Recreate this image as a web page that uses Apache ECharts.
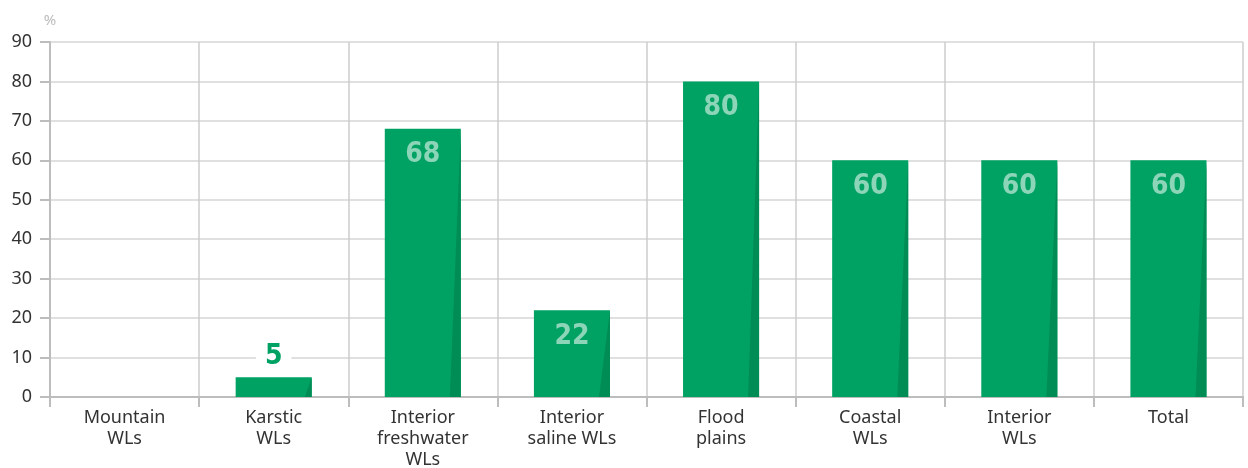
<!DOCTYPE html>
<html>
<head>
<meta charset="utf-8">
<script src="https://cdn.jsdelivr.net/npm/echarts@6/dist/echarts.min.js"></script>
<style>html,body{margin:0;padding:0;background:#fff}#c{width:1248px;height:468px}</style>
</head>
<body>
<div id="c"></div>
<script>
const categories = ['Mountain\nWLs', 'Karstic\nWLs', 'Interior\nfreshwater\nWLs', 'Interior\nsaline WLs', 'Flood\nplains', 'Coastal\nWLs', 'Interior\nWLs', 'Total'];
const values = [0, 5, 68, 22, 80, 60, 60, 60];
const yTicks = { min: 0, max: 90, interval: 10 };

const GREEN = '#00a263';
const DARK = '#008c55';
const BAR_FRAC = 0.51;

const chart = echarts.init(document.getElementById('c'));
const barData = values.map((v, i) => {
  if (v === 0) return { value: v, label: { show: false } };
  if (v < 10) {
    return {
      value: v,
      label: {
        position: 'top', distance: 7, color: GREEN,
        backgroundColor: '#fff', padding: [0, 9, 0, 9]
      }
    };
  }
  return v;
});

chart.setOption({
  animation: false,
  grid: { left: 50, right: 5, top: 42, bottom: 71, containLabel: false, outerBoundsMode: 'none' },
  xAxis: {
    type: 'category',
    data: categories,
    axisLine: { lineStyle: { color: '#bdbdbd', width: 2 } },
    axisTick: { show: true, length: 10, alignWithLabel: false, lineStyle: { color: '#bdbdbd', width: 2 } },
    splitLine: { show: true, lineStyle: { color: '#cccccc', width: 1.5 } },
    axisLabel: {
      interval: 0, margin: 10, color: '#333', fontSize: 18, lineHeight: 21,
      fontFamily: 'Noto Sans'
    }
  },
  yAxis: {
    type: 'value', min: yTicks.min, max: yTicks.max, interval: yTicks.interval,
    name: '%', nameLocation: 'end', nameGap: 14,
    nameTextStyle: { color: '#bbbbbb', fontSize: 15, align: 'center', fontFamily: 'Noto Sans' },
    axisLine: { show: true, lineStyle: { color: '#bdbdbd', width: 2 } },
    axisTick: { show: true, inside: false, length: 10, lineStyle: { color: '#bdbdbd', width: 2 } },
    splitLine: { show: true, lineStyle: { color: '#d6d6d6', width: 1.5 } },
    axisLabel: { margin: 18, color: '#333', fontSize: 18, fontFamily: 'Noto Sans' }
  },
  series: [
    {
      type: 'bar',
      data: barData,
      barWidth: (BAR_FRAC * 100) + '%',
      itemStyle: { color: GREEN },
      label: {
        show: true, position: 'insideTop', distance: 12,
        color: 'rgba(255,255,255,0.55)', fontSize: 28, fontWeight: 'bold',
        fontFamily: 'DejaVu Sans Condensed'
      },
      z: 2
    },
    {
      type: 'custom',
      data: values.map((v, i) => [i, v]),
      z: 3,
      silent: true,
      renderItem: function (params, api) {
        const v = api.value(1);
        if (!v) return null;
        const top = api.coord([api.value(0), v]);
        const base = api.coord([api.value(0), 0]);
        const bw = api.size([1, 0])[0] * BAR_FRAC;
        const right = top[0] + bw / 2;
        const h = base[1] - top[1];
        const w = Math.min(11, h * 0.35);
        return {
          type: 'polygon',
          shape: { points: [[right, top[1]], [right, base[1]], [right - w, base[1]]] },
          style: { fill: DARK }
        };
      }
    }
  ]
});
</script>
</body>
</html>
